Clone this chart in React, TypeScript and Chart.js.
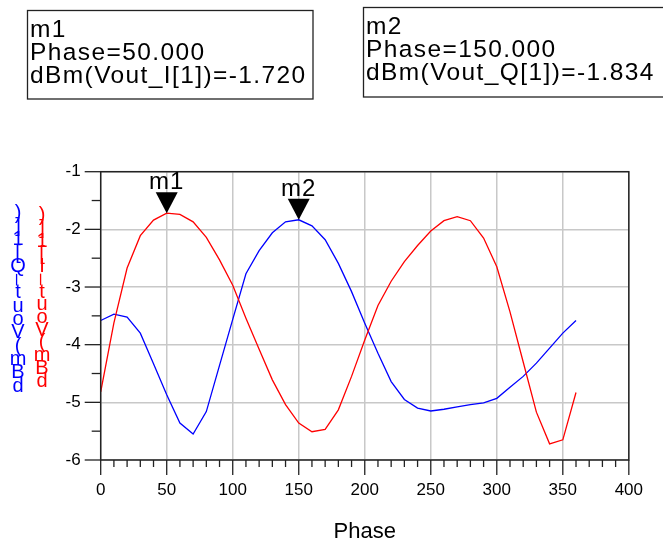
import React, { useEffect, useRef } from "react";
import { Chart, registerables } from "chart.js";

Chart.register(...registerables);

// ---- data ----
const phase = [0, 10, 20, 30, 40, 50, 60, 70, 80, 90, 100, 110, 120, 130, 140, 150, 160, 170, 180, 190, 200, 210, 220, 230, 240, 250, 260, 270, 280, 290, 300, 310, 320, 330, 340, 350, 360];
const voutI = [-4.82, -3.62, -2.67, -2.11, -1.84, -1.72, -1.74, -1.87, -2.14, -2.53, -2.97, -3.54, -4.08, -4.61, -5.04, -5.36, -5.51, -5.47, -5.13, -4.55, -3.92, -3.32, -2.9, -2.56, -2.28, -2.03, -1.85, -1.78, -1.85, -2.15, -2.65, -3.43, -4.3, -5.17, -5.72, -5.65, -4.83];
const voutQ = [-3.58, -3.47, -3.52, -3.8, -4.33, -4.87, -5.36, -5.55, -5.16, -4.36, -3.56, -2.77, -2.37, -2.06, -1.87, -1.834, -1.94, -2.18, -2.59, -3.08, -3.63, -4.15, -4.64, -4.95, -5.1, -5.15, -5.12, -5.08, -5.04, -5.01, -4.93, -4.74, -4.55, -4.32, -4.06, -3.8, -3.58];
const seriesNames = ["dBm(Vout_I[1])", "dBm(Vout_Q[1])"];
const seriesColors = ["#ff0000", "#0000ff"];
const xMin = 0, xMax = 400, xMajor = 50, xMinor = 10;
const yMin = -6, yMax = -1, yMajor = 1, yMinor = 0.5;
const markerNames = ["m1", "m2"];
const markerPhases = [50, 150];
const markerSeriesIdx = [0, 1];
const xTitle = "Phase";

const FONT = '"Liberation Sans", Arial, sans-serif';

export default function App() {
  const ref = useRef<HTMLCanvasElement>(null);

  useEffect(() => {
    const canvas = ref.current!;
    const allSeries = [voutI, voutQ];

    const decor = {
      id: "decor",
      afterDraw(chart: any) {
        const ctx = chart.ctx as CanvasRenderingContext2D;
        const xs = chart.scales.x;
        const ys = chart.scales.y;
        const ca = chart.chartArea;
        ctx.save();
        // frame
        ctx.strokeStyle = "#222";
        ctx.lineWidth = 1.5;
        ctx.strokeRect(ca.left, ca.top, ca.right - ca.left, ca.bottom - ca.top);
        // x ticks
        ctx.lineWidth = 1.3;
        ctx.strokeStyle = "#222";
        for (let v = xMin; v <= xMax + 1e-9; v += xMinor) {
          const px = xs.getPixelForValue(v);
          const major = Math.abs(v / xMajor - Math.round(v / xMajor)) < 1e-6;
          ctx.beginPath();
          ctx.moveTo(px, ca.bottom);
          ctx.lineTo(px, ca.bottom + (major ? 15 : 7));
          ctx.stroke();
        }
        // y ticks
        for (let v = yMin; v <= yMax + 1e-9; v += yMinor) {
          const py = ys.getPixelForValue(v);
          const major = Math.abs(v / yMajor - Math.round(v / yMajor)) < 1e-6;
          ctx.beginPath();
          ctx.moveTo(ca.left, py);
          ctx.lineTo(ca.left - (major ? 16 : 9), py);
          ctx.stroke();
        }
        // markers
        ctx.fillStyle = "#000";
        ctx.font = "24px " + FONT;
        (ctx as any).letterSpacing = "1px";
        ctx.textAlign = "center";
        ctx.textBaseline = "alphabetic";
        markerNames.forEach((name, i) => {
          const si = markerSeriesIdx[i];
          const idx = phase.indexOf(markerPhases[i]);
          const px = xs.getPixelForValue(markerPhases[i]);
          const py = ys.getPixelForValue(allSeries[si][idx]);
          ctx.beginPath();
          ctx.moveTo(px, py);
          ctx.lineTo(px - 11, py - 21);
          ctx.lineTo(px + 11, py - 21);
          ctx.closePath();
          ctx.fill();
          ctx.fillText(name, px, py - 24);
        });
        // vertical stacked y titles (read bottom to top)
        const cols = [
          { s: seriesNames[1], c: seriesColors[1], x: 18, bottom: 386, step: 13.3 },
          { s: seriesNames[0], c: seriesColors[0], x: 42, bottom: 381, step: 12.7 },
        ];
        (ctx as any).letterSpacing = "0px";
        ctx.font = "20px " + FONT;
        ctx.textBaseline = "middle";
        ctx.textAlign = "center";
        cols.forEach((col) => {
          ctx.fillStyle = col.c;
          for (let k = 0; k < col.s.length; k++) {
            const ch = col.s[k];
            const y = col.bottom - k * col.step;
            ctx.save();
            ctx.translate(col.x, y);
            if (ch === "_") {
              ctx.rotate(-Math.PI / 2);
              ctx.fillText(ch, 0, -11);
            } else {
              ctx.fillText(ch, 0, 0);
            }
            ctx.restore();
          }
        });
        // marker readout boxes
        const boxes = [
          { x: 27.5, y: 10.5, w: 285.5, h: 88.5, tx: 30, base: [37, 59.5, 82.5] },
          { x: 363.5, y: 7.5, w: 400, h: 89.5, tx: 366, base: [33.5, 56.5, 79.5] },
        ];
        boxes.forEach((b, i) => {
          ctx.strokeStyle = "#222";
          ctx.lineWidth = 1.3;
          ctx.strokeRect(b.x, b.y, b.w, b.h);
          const si = markerSeriesIdx[i];
          const idx = phase.indexOf(markerPhases[i]);
          const lines = [
            markerNames[i],
            xTitle + "=" + markerPhases[i].toFixed(3),
            seriesNames[si] + "=" + allSeries[si][idx].toFixed(3),
          ];
          ctx.fillStyle = "#000";
          ctx.font = "24.5px " + FONT;
          (ctx as any).letterSpacing = "1.4px";
          ctx.textAlign = "left";
          ctx.textBaseline = "alphabetic";
          lines.forEach((t, j) => ctx.fillText(t, b.tx, b.base[j]));
        });
        ctx.restore();
      },
    };

    const chart = new Chart(canvas, {
      type: "line",
      data: {
        datasets: [
          {
            label: seriesNames[0],
            data: phase.map((p, i) => ({ x: p, y: voutI[i] })),
            borderColor: seriesColors[0],
            borderWidth: 1.3,
            pointRadius: 0,
            tension: 0,
            fill: false,
          },
          {
            label: seriesNames[1],
            data: phase.map((p, i) => ({ x: p, y: voutQ[i] })),
            borderColor: seriesColors[1],
            borderWidth: 1.3,
            pointRadius: 0,
            tension: 0,
            fill: false,
          },
        ],
      },
      options: {
        responsive: false,
        animation: false,
        layout: { padding: { left: 0, top: 171.7, right: 28, bottom: 0 } },
        plugins: { legend: { display: false }, tooltip: { enabled: false } },
        scales: {
          x: {
            type: "linear",
            min: xMin,
            max: xMax,
            afterFit: (s: any) => {
              s.height = 86;
            },
            grid: { color: "#c8c8c8", lineWidth: 1.5, drawTicks: false },
            border: { display: false },
            ticks: {
              stepSize: xMajor,
              padding: 20,
              color: "#000",
              font: { family: FONT, size: 17 },
              maxRotation: 0,
              autoSkip: false,
            },
            title: {
              display: true,
              text: xTitle,
              color: "#000",
              font: { family: FONT, size: 22 },
              padding: { top: 0, bottom: 1 },
            },
          },
          y: {
            type: "linear",
            min: yMin,
            max: yMax,
            afterFit: (s: any) => {
              s.width = 100.7;
            },
            grid: { color: "#c8c8c8", lineWidth: 1.5, drawTicks: false },
            border: { display: false },
            ticks: {
              stepSize: yMajor,
              padding: 20,
              color: "#000",
              font: { family: FONT, size: 17 },
            },
          },
        },
      },
      plugins: [decor],
    } as any);

    return () => chart.destroy();
  }, []);

  return (
    <div style={{ position: "fixed", left: 0, top: 0, width: 663, height: 546, background: "#fff" }}>
      <canvas ref={ref} width={663} height={546} style={{ width: 663, height: 546, display: "block" }} />
    </div>
  );
}
